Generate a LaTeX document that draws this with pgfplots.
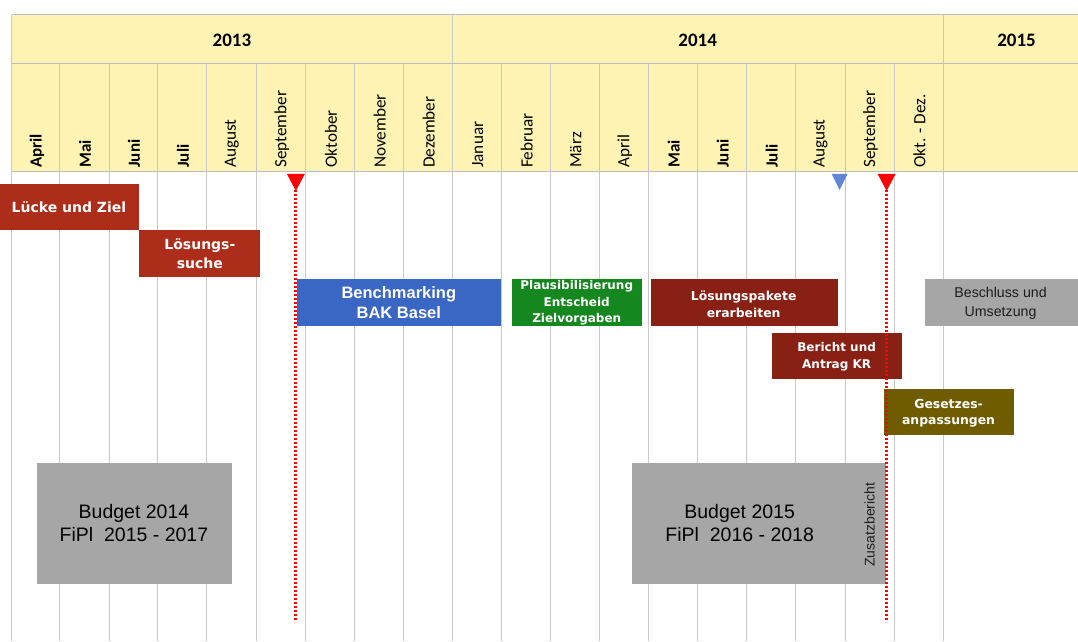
\documentclass[border=0pt]{standalone}
\usepackage{pgfplots}
\pgfplotsset{compat=1.18}
\usepackage{fontspec}
\setmainfont{Carlito}
\newfontfamily\dv{DejaVu Sans}
\newfontfamily\ar{Liberation Sans}
\definecolor{hdr}{RGB}{255,243,180}
\definecolor{hline}{RGB}{185,188,200}
\definecolor{gline}{RGB}{200,200,200}
\definecolor{redA}{RGB}{172,45,25}
\definecolor{redB}{RGB}{137,32,20}
\definecolor{blueA}{RGB}{58,103,196}
\definecolor{greenA}{RGB}{20,135,30}
\definecolor{oliveA}{RGB}{112,92,0}
\definecolor{grayA}{RGB}{166,166,166}
\definecolor{txtgray}{RGB}{30,30,30}
\begin{document}
\begin{tikzpicture}
\begin{axis}[
  scale only axis, width=1078pt, height=641pt,
  xmin=0, xmax=1078, ymin=0, ymax=641, y dir=reverse,
  hide axis, clip=false, unbounded coords=jump]
% background
\addplot[fill=white, draw=none] coordinates {(0,0)(1078,0)(1078,641)(0,641)};
% header
\addplot[fill=hdr, draw=none] coordinates {(12,15)(1078,15)(1078,172)(12,172)};
% vertical grid lines
\addplot[draw=gline, line width=1pt] coordinates {
(12,15)(12,641)(12,nan)
(60,64)(60,641)(60,nan)
(110,64)(110,641)(110,nan)
(158,64)(158,641)(158,nan)
(207,64)(207,641)(207,nan)
(257,64)(257,641)(257,nan)
(306,64)(306,641)(306,nan)
(355,64)(355,641)(355,nan)
(404,64)(404,641)(404,nan)
(453,15)(453,641)(453,nan)
(502,64)(502,641)(502,nan)
(551,64)(551,641)(551,nan)
(600,64)(600,641)(600,nan)
(649,64)(649,641)(649,nan)
(698,64)(698,641)(698,nan)
(747,64)(747,641)(747,nan)
(796,64)(796,641)(796,nan)
(846,64)(846,641)(846,nan)
(895,64)(895,641)(895,nan)
(944,15)(944,641)};
% horizontal header lines
\addplot[draw=hline, line width=1pt] coordinates {
(12,15)(1078,15)(1078,nan)
(12,64)(1078,64)(1078,nan)
(12,172)(1078,172)};
% task bars
\addplot[fill=redA, draw=none] coordinates {(0,184)(139,184)(139,230)(0,230)};
\addplot[fill=redA, draw=none] coordinates {(139,230)(260,230)(260,277)(139,277)};
\addplot[fill=blueA, draw=none] coordinates {(297,279)(501,279)(501,326)(297,326)};
\addplot[fill=greenA, draw=none] coordinates {(512,279)(642,279)(642,326)(512,326)};
\addplot[fill=redB, draw=none] coordinates {(651,279)(838,279)(838,326)(651,326)};
\addplot[fill=redB, draw=none] coordinates {(772,333)(902,333)(902,379)(772,379)};
\addplot[fill=oliveA, draw=none] coordinates {(884,389)(1014,389)(1014,435)(884,435)};
\addplot[fill=grayA, draw=none] coordinates {(925,279)(1078,279)(1078,326)(925,326)};
\addplot[fill=grayA, draw=none] coordinates {(37,463)(232,463)(232,584)(37,584)};
\addplot[fill=grayA, draw=none] coordinates {(632,463)(886,463)(886,584)(632,584)};
% dotted milestone lines
\addplot[draw=red, line width=3pt, dash pattern=on 2.4pt off 1.6pt] coordinates {(296,186)(296,622)};
\addplot[draw=red, line width=3pt, dash pattern=on 2.4pt off 1.6pt] coordinates {(887,186)(887,622)};
% triangles
\addplot[fill=red, draw=none] coordinates {(287,174)(305,174)(296,191)};
\addplot[fill=red, draw=none] coordinates {(878,174)(896,174)(887,191)};
\addplot[fill=blueA!80!white, draw=none] coordinates {(832,174)(848,174)(840,190)};
% year labels
\node[font=\bfseries\fontsize{19}{21}\selectfont] at (232,40) {2013};
\node[font=\bfseries\fontsize{19}{21}\selectfont] at (698,40) {2014};
\node[font=\bfseries\fontsize{19}{21}\selectfont] at (1017,40) {2015};
% month labels
\tikzset{mlab/.style={rotate=90, anchor=west, inner sep=0pt, font=\fontsize{17.2}{19}\selectfont},
         mlabb/.style={mlab, font=\bfseries\fontsize{17}{19}\selectfont}}
\node[mlabb] at (37,168) {April};
\node[mlabb] at (85,168) {Mai};
\node[mlabb] at (134,168) {Juni};
\node[mlabb] at (183,168) {Juli};
\node[mlab] at (232,168) {August};
\node[mlab] at (282,168) {September};
\node[mlab] at (331,168) {Oktober};
\node[mlab] at (380,168) {November};
\node[mlab] at (429,168) {Dezember};
\node[mlab] at (478,168) {Januar};
\node[mlab] at (527,168) {Februar};
\node[mlab] at (576,168) {März};
\node[mlab] at (625,168) {April};
\node[mlabb] at (674,168) {Mai};
\node[mlabb] at (723,168) {Juni};
\node[mlabb] at (772,168) {Juli};
\node[mlab] at (821,168) {August};
\node[mlab] at (871,168) {September};
\node[mlab] at (920,168) {Okt. - Dez.};
% bar texts
\node[text=white, font=\dv\bfseries\fontsize{14}{16}\selectfont] at (69,207) {Lücke und Ziel};
\node[text=white, align=center, font=\dv\bfseries\fontsize{14}{19.5}\selectfont] at (200,254) {Lösungs-\\suche};
\node[text=white, align=center, font=\ar\bfseries\fontsize{16.5}{20}\selectfont] at (399,303) {Benchmarking\\BAK Basel};
\node[text=white, align=center, font=\dv\bfseries\fontsize{12}{16.5}\selectfont] at (577,303) {Plausibilisierung\\Entscheid\\Zielvorgaben};
\node[text=white, align=center, font=\dv\bfseries\fontsize{12.4}{17}\selectfont] at (744,304) {Lösungspakete\\erarbeiten};
\node[text=white, align=center, font=\dv\bfseries\fontsize{12}{17}\selectfont] at (837,357) {Bericht und\\Antrag KR};
\node[text=white, align=center, font=\dv\bfseries\fontsize{12.4}{16}\selectfont] at (949,413) {Gesetzes-\\anpassungen};
\node[text=txtgray, align=center, font=\ar\fontsize{14.2}{19}\selectfont] at (1001,303) {Beschluss und\\Umsetzung};
\node[text=black, align=center, font=\ar\fontsize{19.5}{23}\selectfont] at (134,523) {Budget 2014\\FiPl\ \ 2015 - 2017};
\node[text=black, align=center, font=\ar\fontsize{19.5}{23}\selectfont] at (740,523) {Budget 2015\\FiPl\ \ 2016 - 2018};
\node[text=txtgray, rotate=90, font=\ar\fontsize{14}{16}\selectfont] at (870,525) {Zusatzbericht};
\end{axis}
\end{tikzpicture}
\end{document}
